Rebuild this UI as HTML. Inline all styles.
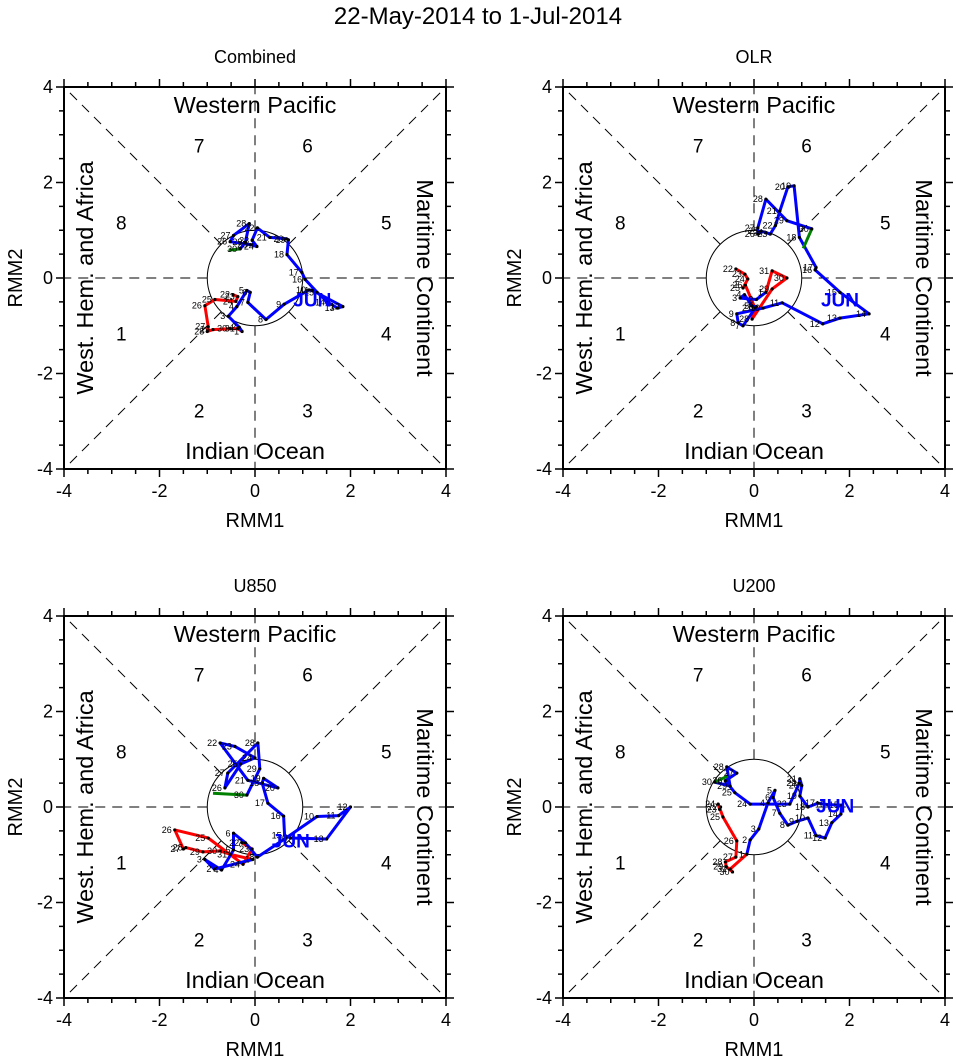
<!DOCTYPE html>
<html><head><meta charset="utf-8"><style>
html,body{margin:0;padding:0;background:#fff}
svg{display:block;font-family:"Liberation Sans",Arial,sans-serif}
</style></head><body>
<svg id="chart" width="956" height="1058" viewBox="0 0 956 1058" xmlns="http://www.w3.org/2000/svg">
<text x="478" y="24" font-size="24" text-anchor="middle">22-May-2014 to 1-Jul-2014</text>
</svg>
<script>
// ---- data (RMM1, RMM2) ----
const ticks = [-4, -2, 0, 2, 4];
const tickLabels = ["-4", "-2", "0", "2", "4"];
const mayDays = [22,23,24,25,26,27,28,29,30,31];
const junDays = [1,2,3,4,5,6,7,8,9,10,11,12,13,14,15,16,17,18,19,20,21,22,23,24,25,26,27,28,29,30];

const combinedMay = [[-0.46,-0.35],[-0.36,-0.39],[-0.40,-0.49],[-0.84,-0.45],[-1.05,-0.58],[-0.98,-1.02],[-1.0,-1.12],[-0.88,-1.08],[-0.52,-1.06],[-0.36,-1.06]];
const combinedJun = [[-0.27,-1.12],[-0.33,-1.03],[-0.56,-0.80],[-0.38,-0.60],[-0.17,-0.26],[-0.10,-0.30],[-0.15,-0.51],[0.23,-0.87],[0.61,-0.55],[1.13,-0.25],[1.2,-0.26],[1.84,-0.6],[1.73,-0.63],[1.53,-0.51],[1.3,-0.3],[1.05,-0.03],[0.98,0.12],[0.67,0.49],[0.70,0.80],[0.66,0.82],[0.31,0.85],[0.05,1.05],[-0.06,0.79],[0.04,0.66],[-0.1,0.7],[-0.52,0.76],[-0.45,0.89],[-0.12,1.14],[-0.20,0.75],[-0.31,0.61]];
const combinedJul = [[-0.31,0.61],[-0.55,0.58]];
const combinedJun_label = [1.2,-0.45];

const olrMay = [[-0.38,0.19],[-0.19,0.08],[-0.13,-0.02],[-0.23,-0.21],[-0.18,-0.15],[0.02,-0.63],[-0.04,-0.86],[0.38,-0.23],[0.69,0.0],[0.38,0.15]];
const olrJun = [[0.25,-0.3],[0.05,-0.45],[-0.29,-0.42],[-0.2,-0.35],[-0.04,-0.59],[0.05,-0.6],[-0.23,-1.0],[-0.33,-0.94],[-0.36,-0.75],[0.19,-0.63],[0.59,-0.52],[1.44,-0.96],[1.80,-0.84],[2.41,-0.75],[1.8,-0.3],[1.28,0.17],[1.30,0.22],[0.95,0.85],[0.84,1.93],[0.71,1.91],[0.54,1.40],[0.45,1.1],[0.34,0.92],[0.25,0.95],[0.15,0.98],[0.08,0.92],[0.08,1.05],[0.25,1.65],[0.69,1.20],[1.21,1.03]];
const olrJul = [[1.21,1.03],[1.03,0.62]];
const olrJun_label = [1.8,-0.45];

const u850May = [[-0.27,-0.75],[-0.06,-0.88],[-0.25,-1.2],[-0.98,-0.65],[-1.68,-0.48],[-1.5,-0.88],[-1.45,-0.85],[-1.09,-0.94],[-0.73,-0.92],[-0.52,-0.99]];
const u850Jun = [[-0.05,-1.1],[-0.85,-1.3],[-1.05,-1.1],[-0.7,-1.32],[-0.45,-0.9],[-0.45,-0.55],[-0.2,-0.75],[0.05,-1.05],[0.65,-0.65],[1.3,-0.2],[1.75,-0.18],[2.0,0.0],[1.5,-0.67],[0.75,-0.65],[0.62,-0.6],[0.6,-0.19],[0.27,0.08],[0.15,0.5],[0.18,0.6],[0.48,0.4],[-0.15,0.56],[-0.73,1.34],[-0.42,1.27],[0.0,1.03],[-0.3,0.9],[-0.63,0.4],[-0.57,0.71],[0.06,1.34],[0.10,0.8],[-0.17,0.25]];
const u850Jul = [[-0.17,0.25],[-0.88,0.29]];
const u850Jun_label = [0.75,-0.7];

const u200May = [[-0.7,0.0],[-0.72,-0.05],[-0.75,0.06],[-0.65,-0.21],[-0.36,-0.71],[-0.38,-1.05],[-0.6,-1.15],[-0.58,-1.25],[-0.45,-1.36],[-0.5,-1.3]];
const u200Jun = [[-0.15,-0.99],[-0.08,-0.69],[0.10,-0.46],[0.29,0.08],[0.44,0.35],[0.40,0.2],[0.54,-0.13],[0.71,-0.38],[0.9,-0.3],[1.13,-0.23],[1.3,-0.6],[1.49,-0.65],[1.63,-0.33],[1.82,-0.15],[1.84,0.04],[1.55,0.05],[1.34,0.08],[1.13,0.0],[0.96,0.23],[1.0,0.45],[0.96,0.59],[0.95,0.5],[0.75,0.06],[-0.08,0.06],[-0.4,0.3],[-0.6,0.55],[-0.36,0.71],[-0.57,0.84],[-0.5,0.44],[-0.82,0.52]];
const u200Jul = [[-0.82,0.52],[-0.55,0.65]];
const u200Jun_label = [1.7,0.03];

const NS = "http://www.w3.org/2000/svg";
const svg = document.getElementById("chart");
function mk(tag, attrs, parent){const e=document.createElementNS(NS,tag);for(const k in attrs)e.setAttribute(k,attrs[k]);(parent||svg).appendChild(e);return e;}

function drawPanel(x0, y0, title, may, jun, jul, junLabel, key){
  const S = 382, U = S/8;
  const sx = v => x0 + (v+4)*U;
  const sy = v => y0 + (4-v)*U;
  const g = mk("g", {});
  
  
  const cx = sx(0), cy = sy(0);
  const dash = {stroke:"#000","stroke-width":1,"stroke-dasharray":"10,7",fill:"none"};
  const dirs = [[1,0],[-1,0],[0,1],[0,-1],[1,1],[1,-1],[-1,1],[-1,-1]];
  dirs.forEach(d=>{
    const n = Math.hypot(d[0],d[1]);
    const l = mk("line", Object.assign({x1:sx(d[0]/n), y1:sy(d[1]/n), x2:sx(4*d[0]), y2:sy(4*d[1])}, dash), g);
    
    
  });
  const c = mk("circle", {cx:cx, cy:cy, r:U, fill:"none", stroke:"#000", "stroke-width":1}, g);
  
  
  const box = mk("rect", {x:x0, y:y0, width:S, height:S, fill:"none", stroke:"#000", "stroke-width":2}, g);
  
  
  for(let v=-4; v<=4.001; v+=0.5){
    const major = Math.abs(v%2) < 0.01;
    const L = major ? 8 : 5;
    const x = sx(v), y = sy(v);
    [[x,y0+S,x,y0+S+L],[x,y0,x,y0-L],[x0,y,x0-L,y],[x0+S,y,x0+S+L,y]].forEach(t=>{
      const tk = mk("line",{x1:t[0],y1:t[1],x2:t[2],y2:t[3],stroke:"#000","stroke-width":1.5},g);
      
      
    });
  }
  ticks.forEach((v,i)=>{
    const tx = mk("text",{x:sx(v), y:y0+S+28, "font-size":18, "text-anchor":"middle"}, g);
    tx.textContent = tickLabels[i];
    
    
    const ty = mk("text",{x:x0-11, y:sy(v)+6, "font-size":18, "text-anchor":"end"}, g);
    ty.textContent = tickLabels[i];
    
    
  });
  const t = mk("text",{x:x0+S/2, y:y0-24, "font-size":18, "text-anchor":"middle"}, g);
  t.textContent = title;
  
  
  const xl = mk("text",{x:x0+S/2, y:y0+S+58, "font-size":20, "text-anchor":"middle"}, g);
  xl.textContent = "RMM1";
  
  
  const yl = mk("text",{x:0, y:0, "font-size":20, "text-anchor":"middle", transform:`translate(${x0-42},${y0+S/2}) rotate(-90)`}, g);
  yl.textContent = "RMM2";
  
  
  const reg = [["Western Pacific", x0+S/2, y0+18, 0, 'region-western-pacific'],["Indian Ocean", x0+S/2, y0+S-18, 0, 'region-indian-ocean'],["West. Hem. and Africa", x0+21, y0+S/2, -90, 'region-west-hem-africa'],["Maritime Continent", x0+S-21, y0+S/2, 90, 'region-maritime-continent']];
  reg.forEach(r=>{
    const e = mk("text",{x:0,y:8,"font-size":23.5,"text-anchor":"middle",transform:`translate(${r[1]},${r[2]}) rotate(${r[3]})`}, g);
    e.textContent = r[0];
    
    
  });
  const ph = [["7",-1.17,2.77],["6",1.1,2.77],["8",-2.8,1.16],["5",2.75,1.16],["1",-2.8,-1.16],["4",2.75,-1.16],["2",-1.17,-2.77],["3",1.1,-2.77]];
  ph.forEach(p=>{
    const e = mk("text",{x:sx(p[1]), y:sy(p[2])+7, "font-size":19, "text-anchor":"middle"}, g);
    e.textContent = p[0];
    
    
  });
  function path(pts, color, name){
    const d = pts.map((p,i)=>(i?"L":"M")+sx(p[0]).toFixed(1)+","+sy(p[1]).toFixed(1)).join(" ");
    const e = mk("path",{d:d, fill:"none", stroke:color, "stroke-width":3, "stroke-linejoin":"round"}, g);
    
    
  }
  const mayLine = may.concat([jun[0]]);
  path(mayLine, "#ff0000", 'may-trajectory');
  path(jun, "#0000ff", 'june-trajectory');
  path(jul, "#008000", 'july-trajectory');
  function dots(pts, days, name){
    pts.forEach((p,i)=>{
      const dt = mk("circle",{cx:sx(p[0]), cy:sy(p[1]), r:1.6, fill:"#000"}, g);
      
      
      const lb = mk("text",{x:sx(p[0])-3, y:sy(p[1])+3, "font-size":9, "text-anchor":"end"}, g);
      lb.textContent = days[i];
      
      
    });
  }
  dots(may, mayDays, 'may');
  dots(jun, junDays, 'june');
  const jl = mk("text",{x:sx(junLabel[0]), y:sy(junLabel[1])+7, "font-size":19, "font-weight":"bold", fill:"#0000ff", "text-anchor":"middle"}, g);
  jl.textContent = "JUN";
  
  
}

drawPanel(64, 87, "Combined", combinedMay, combinedJun, combinedJul, combinedJun_label, 'combined');
drawPanel(563, 87, "OLR", olrMay, olrJun, olrJul, olrJun_label, 'olr');
drawPanel(64, 616, "U850", u850May, u850Jun, u850Jul, u850Jun_label, 'u850');
drawPanel(563, 616, "U200", u200May, u200Jun, u200Jul, u200Jun_label, 'u200');
</script>
</body></html>
